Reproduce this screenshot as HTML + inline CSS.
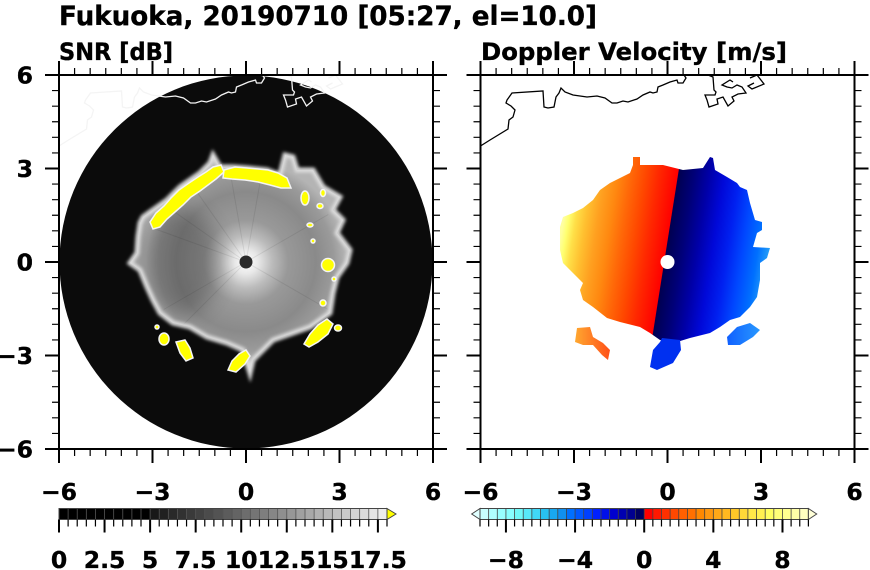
<!DOCTYPE html>
<html><head><meta charset="utf-8"><style>
html,body{margin:0;padding:0;background:#fff;}
svg{display:block;}
text{font-family:"DejaVu Sans","Liberation Sans",sans-serif;font-weight:bold;fill:#000;stroke:#000;stroke-width:0.35;}
</style></head><body>
<svg width="870" height="570" viewBox="0 0 870 570" xmlns="http://www.w3.org/2000/svg">
<defs>
<clipPath id="cl"><rect x="59" y="75" width="374" height="374"/></clipPath>
<clipPath id="cr"><rect x="480.5" y="75" width="374" height="374"/></clipPath>
<radialGradient id="snrG" cx="246" cy="262" r="100" gradientUnits="userSpaceOnUse">
<stop offset="0" stop-color="#ffffff"/>
<stop offset="0.12" stop-color="#e8e8e8"/>
<stop offset="0.26" stop-color="#bcbcbc"/>
<stop offset="0.42" stop-color="#999"/>
<stop offset="0.7" stop-color="#8a8a8a"/>
<stop offset="0.88" stop-color="#9a9a9a"/>
<stop offset="1" stop-color="#b4b4b4"/>
</radialGradient>
<linearGradient id="dopG" x1="558" y1="262" x2="772" y2="262" gradientUnits="userSpaceOnUse" gradientTransform="rotate(9,664,262)">
<stop offset="0" stop-color="#ffffa0"/>
<stop offset="0.023" stop-color="#ffff70"/>
<stop offset="0.056" stop-color="#ffe048"/>
<stop offset="0.103" stop-color="#ffc030"/>
<stop offset="0.159" stop-color="#ffa020"/>
<stop offset="0.22" stop-color="#ff8810"/>
<stop offset="0.28" stop-color="#ff6808"/>
<stop offset="0.346" stop-color="#ff4800"/>
<stop offset="0.407" stop-color="#ff2800"/>
<stop offset="0.477" stop-color="#ff0800"/>
<stop offset="0.495" stop-color="#ff0000"/>
<stop offset="0.4975" stop-color="#000050"/>
<stop offset="0.57" stop-color="#000078"/>
<stop offset="0.64" stop-color="#0000a8"/>
<stop offset="0.71" stop-color="#0008d8"/>
<stop offset="0.78" stop-color="#0020f0"/>
<stop offset="0.85" stop-color="#0048ff"/>
<stop offset="0.92" stop-color="#0070ff"/>
<stop offset="0.967" stop-color="#2098f8"/>
<stop offset="1" stop-color="#40b8f8"/>
</linearGradient>
<linearGradient id="orG" x1="575" y1="0" x2="610" y2="0" gradientUnits="userSpaceOnUse">
<stop offset="0" stop-color="#ffa830"/><stop offset="1" stop-color="#ff5018"/>
</linearGradient>
<linearGradient id="blG" x1="727" y1="0" x2="760" y2="0" gradientUnits="userSpaceOnUse">
<stop offset="0" stop-color="#1060ff"/><stop offset="1" stop-color="#2898ff"/>
</linearGradient>
<filter id="bl1" x="-20%" y="-20%" width="140%" height="140%"><feGaussianBlur stdDeviation="1.5"/></filter>
<filter id="bl4" x="-50%" y="-50%" width="200%" height="200%"><feGaussianBlur stdDeviation="10"/></filter>
<clipPath id="echoClip"><path id="echoP" d="M143,217 L150,212 L167,200 L180,187 L200,173 L210,163 L213,155 L220,167 L233,167 L247,168 L267,170 L280,175 L285,155 L293,157 L297,170 L313,170 L323,187 L340,197 L333,210 L343,220 L337,233 L350,250 L347,263 L337,277 L333,293 L330,313 L320,320 L310,327 L293,333 L273,340 L253,360 L250,373 L243,350 L227,343 L207,337 L190,327 L173,323 L160,313 L153,300 L147,287 L140,270 L130,263 L137,253 L138,237 L140,223 Z"/></clipPath>
<g id="frame" fill="none" stroke="#000">
<rect x="59" y="75" width="374" height="374" stroke-width="2"/>
<line x1="58.4" y1="71.5" x2="434" y2="71.5" stroke-width="7" stroke-dasharray="1.2 14.3833"/>
<line x1="58" y1="68" x2="435" y2="68" stroke-width="14" stroke-dasharray="2 91.5"/>
<line x1="58.4" y1="452.5" x2="434" y2="452.5" stroke-width="7" stroke-dasharray="1.2 14.3833"/>
<line x1="58" y1="456" x2="435" y2="456" stroke-width="14" stroke-dasharray="2 91.5"/>
<line x1="55.5" y1="74.4" x2="55.5" y2="450" stroke-width="7" stroke-dasharray="1.2 14.3833"/>
<line x1="52" y1="74" x2="52" y2="451" stroke-width="14" stroke-dasharray="2 91.5"/>
<line x1="436.5" y1="74.4" x2="436.5" y2="450" stroke-width="7" stroke-dasharray="1.2 14.3833"/>
<line x1="440" y1="74" x2="440" y2="451" stroke-width="14" stroke-dasharray="2 91.5"/>
</g>
<g id="coast" fill="none">
<path d="M480.5,146 L490,140 L508,129 L509,120 L513,117 L515,110 L511,106 L506,103 L507,100 L512,93 L543,91 L544,107 L548,108 L554,107 L556,97 L559,93 L561,88 L565,92 L573,95 L587,97 L597,96 L605,98 L612,103 L617,103 L623,101 L628,102 L637,99 L643,95 L650,92 L653,93 L657,92 L658,87 L663,85 L670,82 L677,80 L678,83 L683,83 L686,78 L684,75"/>
<path d="M708,75 L713,77 L714,90 L716,92 L715,95 L705,95 L707,100 L709,107 L718,104 L717,99 L723,97 L728,106 L734,101 L732,97 L738,94 L746,93 L742,87 L737,85 L732,88 L727,87 L722,85 L730,80 L733,82"/>
<path d="M750,78 L757,75 L764,84 L752,89 L748,86 L754,83"/>
</g>
</defs>

<!-- Title -->
<text x="59" y="25" font-size="26.5" textLength="538" lengthAdjust="spacingAndGlyphs">Fukuoka, 20190710 [05:27, el=10.0]</text>
<text x="59" y="60" font-size="24" textLength="114" lengthAdjust="spacingAndGlyphs">SNR [dB]</text>
<text x="481" y="60" font-size="24" textLength="306" lengthAdjust="spacingAndGlyphs">Doppler Velocity [m/s]</text>

<!-- LEFT PANEL -->
<g clip-path="url(#cl)">
<circle cx="246" cy="262" r="186.5" fill="#0b0b0b"/>
<use href="#echoP" fill="url(#snrG)"/>
<g clip-path="url(#echoClip)">
<ellipse cx="178" cy="262" rx="42" ry="55" fill="#000" opacity="0.22" filter="url(#bl4)"/>
<g stroke="#000" stroke-opacity="0.08" stroke-width="1">
<line x1="246" y1="262" x2="156.7" y2="229.5"/>
<line x1="246" y1="262" x2="168.2" y2="207.5"/>
<line x1="246" y1="262" x2="191.5" y2="184.2"/>
<line x1="246" y1="262" x2="229.5" y2="168.4"/>
<line x1="246" y1="262" x2="262.5" y2="168.4"/>
<line x1="246" y1="262" x2="178.8" y2="329.2"/>
<line x1="246" y1="262" x2="163.7" y2="309.5"/>
<line x1="246" y1="262" x2="328.3" y2="309.5"/>
<line x1="246" y1="262" x2="328.3" y2="214.5"/>
</g>
</g>
<use href="#echoP" fill="none" stroke="#dcdcdc" stroke-width="5" filter="url(#bl1)"/>
<g fill="#ffff00" stroke="#f4f4f4" stroke-width="1.5">
<path d="M150,222 L156,213 L164,206 L171,198 L179,190 L189,183 L198,177 L206,172 L213,167 L221,165 L224,172 L216,179 L208,185 L200,191 L191,197 L183,205 L175,212 L167,219 L160,227 L153,229 Z"/>
<path d="M224,170 L235,167 L247,168 L258,169 L268,170 L278,173 L287,178 L291,188 L281,188 L270,185 L258,182 L245,180 L232,179 L223,178 Z"/>
<ellipse cx="305" cy="198" rx="4" ry="7"/>
<ellipse cx="320" cy="206" rx="3" ry="2.5"/>
<ellipse cx="323" cy="193" rx="2.5" ry="3.5"/>
<ellipse cx="310" cy="225" rx="3" ry="2"/>
<ellipse cx="313" cy="241" rx="2" ry="2"/>
<ellipse cx="328" cy="265" rx="6.5" ry="6.5"/>
<ellipse cx="334" cy="279" rx="2" ry="2"/>
<ellipse cx="323" cy="303" rx="3" ry="3"/>
<path d="M304,344 L310,334 L318,325 L327,319 L333,324 L328,334 L318,342 L309,347 Z"/>
<ellipse cx="338" cy="328" rx="3.5" ry="3"/>
<path d="M228,370 L232,361 L239,354 L246,350 L250,356 L245,364 L236,372 Z"/>
<ellipse cx="164" cy="339" rx="5" ry="6"/>
<path d="M176,342 L185,340 L190,348 L193,358 L186,361 L180,353 Z"/>
<ellipse cx="157" cy="327" rx="2" ry="2"/>
</g>
<circle cx="246" cy="262" r="6.5" fill="#2a2a2a"/>
<use href="#coast" stroke="#f4f4f4" stroke-width="1.3" transform="translate(-421.5,0)"/>
</g>
<use href="#frame"/>

<!-- RIGHT PANEL -->
<g clip-path="url(#cr)">
<path fill="url(#dopG)" d="M633,157 L640,157 L640,165 L663,165 L683,170 L703,168 L710,157 L713,158 L715,170 L727,177 L737,183 L740,187 L747,190 L750,203 L755,220 L762,222 L762,230 L757,233 L753,247 L770,248 L767,258 L760,263 L760,280 L757,297 L750,307 L740,317 L730,320 L720,327 L710,333 L690,338 L677,342 L660,340 L650,333 L640,327 L620,322 L607,318 L593,307 L583,300 L580,290 L583,283 L577,277 L570,270 L563,263 L560,250 L560,227 L563,217 L573,213 L583,208 L593,200 L600,190 L610,183 L620,178 L630,173 L633,165 Z"/>
<path fill="#0030f0" d="M662,338 L680,340 L681,350 L673,363 L657,370 L650,367 L653,350 L660,342 Z"/>
<path fill="url(#orG)" d="M577,328 L590,327 L593,337 L603,343 L610,350 L608,360 L602,355 L593,345 L583,345 L575,342 Z"/>
<path fill="url(#blG)" d="M727,337 L737,327 L750,323 L760,330 L753,337 L740,345 L728,345 Z"/>
<circle cx="667.5" cy="262" r="7" fill="#fff"/>
<use href="#coast" stroke="#000" stroke-width="1.3"/>
</g>
<use href="#frame" transform="translate(421.5,0)"/>

<!-- Axis labels -->
<g font-size="23.5">
<text x="33" y="83.5" text-anchor="end">6</text>
<text x="33" y="177" text-anchor="end">3</text>
<text x="33" y="270.5" text-anchor="end">0</text>
<text x="33" y="364" text-anchor="end">−3</text>
<text x="33" y="457.5" text-anchor="end">−6</text>
<g text-anchor="middle">
<text x="59" y="500">−6</text>
<text x="152.5" y="500">−3</text>
<text x="246" y="500">0</text>
<text x="339.5" y="500">3</text>
<text x="433" y="500">6</text>
<text x="480.5" y="500">−6</text>
<text x="574" y="500">−3</text>
<text x="667.5" y="500">0</text>
<text x="761" y="500">3</text>
<text x="854.5" y="500">6</text>
</g>
</g>

<!-- SNR colorbar -->
<g>
<rect x="59" y="508.5" width="91.4" height="11" fill="#000"/>
<rect x="150.11" y="508.5" width="9.4" height="11" fill="#181818"/>
<rect x="159.22" y="508.5" width="9.4" height="11" fill="#202020"/>
<rect x="168.33" y="508.5" width="9.4" height="11" fill="#292929"/>
<rect x="177.44" y="508.5" width="9.4" height="11" fill="#313131"/>
<rect x="186.56" y="508.5" width="9.4" height="11" fill="#3a3a3a"/>
<rect x="195.67" y="508.5" width="9.4" height="11" fill="#424242"/>
<rect x="204.78" y="508.5" width="9.4" height="11" fill="#4b4b4b"/>
<rect x="213.89" y="508.5" width="9.4" height="11" fill="#535353"/>
<rect x="223.00" y="508.5" width="9.4" height="11" fill="#5c5c5c"/>
<rect x="232.11" y="508.5" width="9.4" height="11" fill="#646464"/>
<rect x="241.22" y="508.5" width="9.4" height="11" fill="#6d6d6d"/>
<rect x="250.33" y="508.5" width="9.4" height="11" fill="#757575"/>
<rect x="259.44" y="508.5" width="9.4" height="11" fill="#7e7e7e"/>
<rect x="268.56" y="508.5" width="9.4" height="11" fill="#868686"/>
<rect x="277.67" y="508.5" width="9.4" height="11" fill="#8f8f8f"/>
<rect x="286.78" y="508.5" width="9.4" height="11" fill="#979797"/>
<rect x="295.89" y="508.5" width="9.4" height="11" fill="#a0a0a0"/>
<rect x="305.00" y="508.5" width="9.4" height="11" fill="#a8a8a8"/>
<rect x="314.11" y="508.5" width="9.4" height="11" fill="#b1b1b1"/>
<rect x="323.22" y="508.5" width="9.4" height="11" fill="#b9b9b9"/>
<rect x="332.33" y="508.5" width="9.4" height="11" fill="#c2c2c2"/>
<rect x="341.44" y="508.5" width="9.4" height="11" fill="#cacaca"/>
<rect x="350.56" y="508.5" width="9.4" height="11" fill="#d3d3d3"/>
<rect x="359.67" y="508.5" width="9.4" height="11" fill="#dbdbdb"/>
<rect x="368.78" y="508.5" width="9.4" height="11" fill="#e4e4e4"/>
<rect x="377.89" y="508.5" width="9.11" height="11" fill="#ececec"/>
<line x1="58.6" y1="514" x2="387.5" y2="514" stroke="#555" stroke-width="11" stroke-dasharray="0.8 8.311"/>
<rect x="59" y="508.5" width="328" height="11" fill="none" stroke="#444" stroke-width="1"/>
<path d="M387,508.5 L396,514 L387,519.5 Z" fill="#ffff00" stroke="#444" stroke-width="1"/>
<line x1="58.4" y1="523" x2="388" y2="523" stroke="#000" stroke-width="7" stroke-dasharray="1.2 7.911"/>
<line x1="58" y1="526" x2="388" y2="526" stroke="#000" stroke-width="13" stroke-dasharray="2 43.556"/>
<g font-size="23.5" text-anchor="middle">
<text x="59" y="568">0</text>
<text x="104.56" y="568">2.5</text>
<text x="150.11" y="568">5</text>
<text x="195.67" y="568">7.5</text>
<text x="241.22" y="568">10</text>
<text x="286.78" y="568">12.5</text>
<text x="332.33" y="568">15</text>
<text x="377.89" y="568">17.5</text>
</g>
</g>

<!-- Velocity colorbar -->
<g>
<path d="M480,508.5 L471.7,514 L480,519.5 Z" fill="#e0ffff" stroke="#444" stroke-width="1"/>
<rect x="480.00" y="508.5" width="8.9" height="11" fill="#c8ffff"/>
<rect x="488.64" y="508.5" width="8.9" height="11" fill="#b0ffff"/>
<rect x="497.28" y="508.5" width="8.9" height="11" fill="#98ffff"/>
<rect x="505.93" y="508.5" width="8.9" height="11" fill="#88ffff"/>
<rect x="514.57" y="508.5" width="8.9" height="11" fill="#70f8f8"/>
<rect x="523.21" y="508.5" width="8.9" height="11" fill="#58e8f8"/>
<rect x="531.85" y="508.5" width="8.9" height="11" fill="#40d8f8"/>
<rect x="540.49" y="508.5" width="8.9" height="11" fill="#28c0f0"/>
<rect x="549.14" y="508.5" width="8.9" height="11" fill="#18a8f0"/>
<rect x="557.78" y="508.5" width="8.9" height="11" fill="#1090f0"/>
<rect x="566.42" y="508.5" width="8.9" height="11" fill="#0070ff"/>
<rect x="575.06" y="508.5" width="8.9" height="11" fill="#0058ff"/>
<rect x="583.70" y="508.5" width="8.9" height="11" fill="#0040ff"/>
<rect x="592.35" y="508.5" width="8.9" height="11" fill="#0020ff"/>
<rect x="600.99" y="508.5" width="8.9" height="11" fill="#0010e8"/>
<rect x="609.63" y="508.5" width="8.9" height="11" fill="#0000d0"/>
<rect x="618.27" y="508.5" width="8.9" height="11" fill="#0000b0"/>
<rect x="626.91" y="508.5" width="8.9" height="11" fill="#000090"/>
<rect x="635.56" y="508.5" width="8.9" height="11" fill="#000060"/>
<rect x="644.20" y="508.5" width="8.9" height="11" fill="#ff0000"/>
<rect x="652.84" y="508.5" width="8.9" height="11" fill="#ff1800"/>
<rect x="661.48" y="508.5" width="8.9" height="11" fill="#ff3000"/>
<rect x="670.12" y="508.5" width="8.9" height="11" fill="#ff4800"/>
<rect x="678.77" y="508.5" width="8.9" height="11" fill="#ff6000"/>
<rect x="687.41" y="508.5" width="8.9" height="11" fill="#ff7000"/>
<rect x="696.05" y="508.5" width="8.9" height="11" fill="#ff8800"/>
<rect x="704.69" y="508.5" width="8.9" height="11" fill="#ff9810"/>
<rect x="713.33" y="508.5" width="8.9" height="11" fill="#ffa818"/>
<rect x="721.98" y="508.5" width="8.9" height="11" fill="#ffb820"/>
<rect x="730.62" y="508.5" width="8.9" height="11" fill="#ffc828"/>
<rect x="739.26" y="508.5" width="8.9" height="11" fill="#ffd838"/>
<rect x="747.90" y="508.5" width="8.9" height="11" fill="#ffe848"/>
<rect x="756.54" y="508.5" width="8.9" height="11" fill="#fff050"/>
<rect x="765.19" y="508.5" width="8.9" height="11" fill="#ffff60"/>
<rect x="773.83" y="508.5" width="8.9" height="11" fill="#ffff78"/>
<rect x="782.47" y="508.5" width="8.9" height="11" fill="#ffff90"/>
<rect x="791.11" y="508.5" width="8.9" height="11" fill="#ffffa8"/>
<rect x="799.75" y="508.5" width="8.65" height="11" fill="#ffffc0"/>
<line x1="479.6" y1="514" x2="809" y2="514" stroke="#444" stroke-width="11" stroke-dasharray="0.8 7.842"/>
<rect x="480" y="508.5" width="328.4" height="11" fill="none" stroke="#444" stroke-width="1"/>
<path d="M808.4,508.5 L816.7,514 L808.4,519.5 Z" fill="#ffffd8" stroke="#444" stroke-width="1"/>
<line x1="479.4" y1="523" x2="809" y2="523" stroke="#000" stroke-width="7" stroke-dasharray="1.2 7.442"/>
<line x1="504.93" y1="526" x2="790" y2="526" stroke="#000" stroke-width="13" stroke-dasharray="2 67.14"/>
<g font-size="23.5" text-anchor="middle">
<text x="505.93" y="568">−8</text>
<text x="575.06" y="568">−4</text>
<text x="644.2" y="568">0</text>
<text x="713.33" y="568">4</text>
<text x="782.47" y="568">8</text>
</g>
</g>
</svg>
</body></html>
